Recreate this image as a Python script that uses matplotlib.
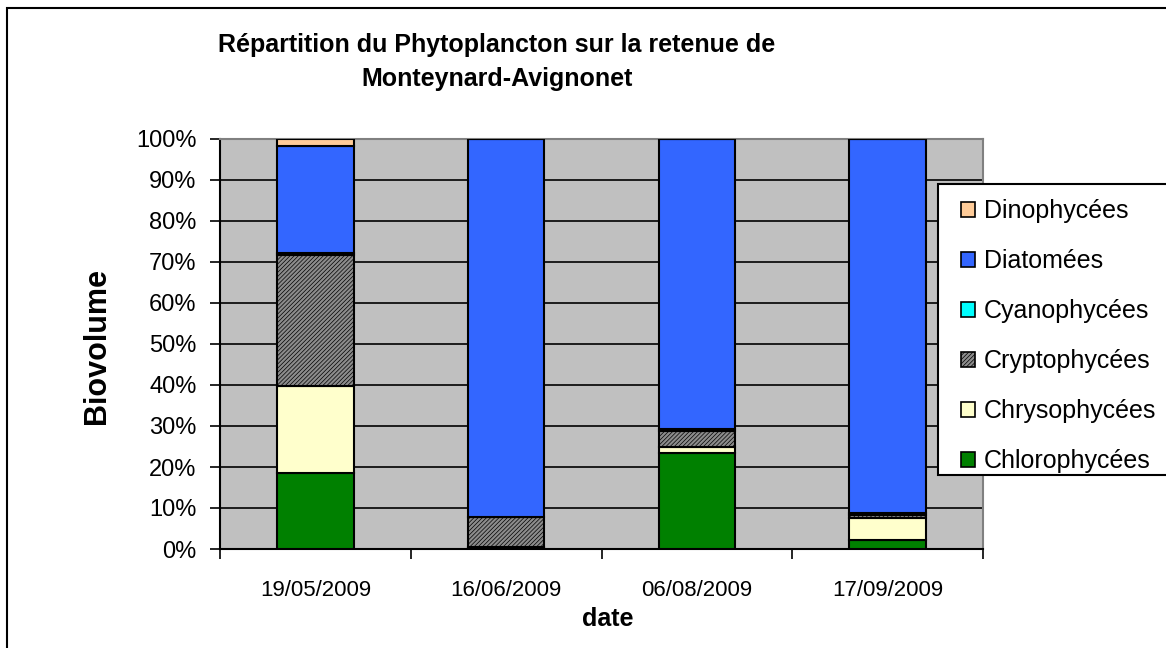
import numpy as np
import matplotlib.pyplot as plt
from matplotlib.patches import Rectangle

plt.rcParams['font.family'] = ['Liberation Sans', 'DejaVu Sans']
plt.rcParams['hatch.color'] = '#666666'
plt.rcParams['hatch.linewidth'] = 0.5

dates = ["19/05/2009", "16/06/2009", "06/08/2009", "17/09/2009"]

# share of biovolume per group (%)
chloro = [18.6, 0.3, 23.3, 2.2]
chryso = [21.2, 0.2, 1.7, 5.4]
crypto = [31.9, 7.3, 3.7, 0.8]
cyano = [0.5, 0.0, 0.5, 0.4]
diatom = [26.2, 92.2, 70.8, 91.2]
dino = [1.6, 0.0, 0.0, 0.0]

groups = [
    ("Chlorophycées", chloro, '#008000', None),
    ("Chrysophycées", chryso, '#FFFFCC', None),
    ("Cryptophycées", crypto, '#8C8C8C', '////////'),
    ("Cyanophycées", cyano, '#00FFFF', None),
    ("Diatomées", diatom, '#3366FF', None),
    ("Dinophycées", dino, '#FFCC99', None),
]

W, H = 1166, 648
fig = plt.figure(figsize=(W/100, H/100), dpi=100)
ax = fig.add_axes([220/W, 1 - 549/H, (983-220)/W, (549-139)/H])
ax.set_facecolor('#C0C0C0')

x = np.arange(len(dates))
bottom = np.zeros(len(dates))
handles = {}
for name, vals, col, hatch in groups:
    v = np.array(vals) / 100.0
    b = ax.bar(x, v, width=0.4, bottom=bottom, color=col, edgecolor='black',
               linewidth=1.5, hatch=hatch, zorder=3)
    handles[name] = b
    bottom += v

ax.set_xlim(-0.5, 3.5)
ax.set_ylim(0, 1)
yt = np.arange(0, 1.01, 0.1)
ax.set_yticks(yt)
ax.set_yticklabels([f"{int(round(t*100))}%" for t in yt], fontsize=17)
ax.yaxis.grid(True, color='black', linewidth=1.2, zorder=1)
ax.set_axisbelow(True)
ax.tick_params(axis='y', direction='out', length=7, width=1.2, pad=10)

ax.set_xticks(x)
ax.set_xticklabels(dates, fontsize=16)
ax.set_xticks(np.arange(-0.5, 3.6, 1), minor=True)
ax.tick_params(axis='x', which='major', length=0, pad=22)
ax.tick_params(axis='x', which='minor', direction='out', length=7, width=1.2)

for s in ['top', 'right']:
    ax.spines[s].set_color('#808080')
    ax.spines[s].set_linewidth(1.5)
for s in ['left', 'bottom']:
    ax.spines[s].set_color('black')
    ax.spines[s].set_linewidth(1.5)

fig.text(97/W, 1 - 346/H, "Biovolume", rotation=90, ha='center', va='center',
         fontsize=22, fontweight='bold')
fig.text(608/W, 1 - 619/H, "date", ha='center', va='center',
         fontsize=18, fontweight='bold')

fig.text(497/W, 1 - 62/H,
         "Répartition du Phytoplancton sur la retenue de\nMonteynard-Avignonet",
         ha='center', va='center', fontsize=18, fontweight='bold', linespacing=1.55)

# legend box
fig.patches.append(Rectangle((938/W, 1 - 475/H), 0.3, 291/H, transform=fig.transFigure,
                             facecolor='white', edgecolor='black', linewidth=1.5, zorder=5))
order = ["Dinophycées", "Diatomées", "Cyanophycées", "Cryptophycées",
         "Chrysophycées", "Chlorophycées"]
leg = fig.legend([handles[n] for n in order], order,
                 loc='upper left', bbox_to_anchor=(961/W, 1 - 199/H),
                 fontsize=18, frameon=False,
                 handlelength=0.55, handleheight=0.55, handletextpad=0.35,
                 labelspacing=1.04, borderpad=0, borderaxespad=0)
leg.set_zorder(6)
for h in leg.legend_handles:
    h.set_linewidth(1.2)

fig.patches.append(Rectangle((7/W, -0.1), 1.2, 1 - 8/H + 0.1,
                             transform=fig.transFigure, fill=False,
                             edgecolor='black', linewidth=1.5))

fig.savefig("out.png", dpi=100)
